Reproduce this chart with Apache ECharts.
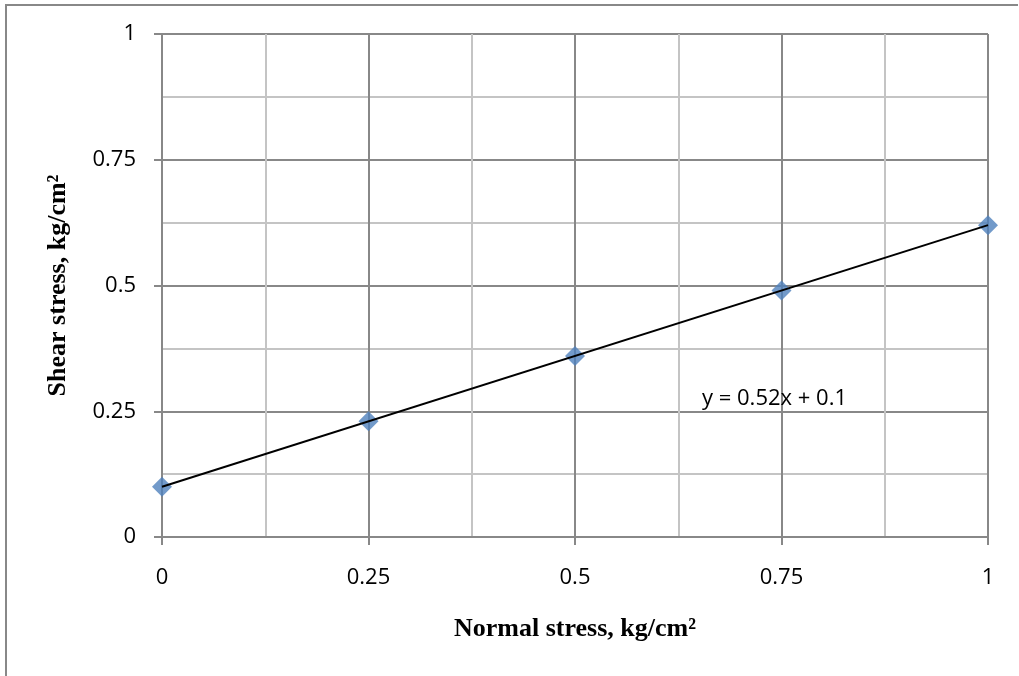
<!DOCTYPE html>
<html><head><meta charset="utf-8">
<script src="https://cdn.jsdelivr.net/npm/echarts@6/dist/echarts.min.js"></script>
<style>html,body{margin:0;padding:0;background:#fff}#c{width:1019px;height:676px}</style>
</head><body><div id="c"></div>
<script>
const normalStress = [0, 0.25, 0.5, 0.75, 1];
const shearStress = [0.1, 0.23, 0.36, 0.49, 0.62];
const trendSlope = 0.52;
const trendIntercept = 0.1;
const trendText = 'y = 0.52x + 0.1';
const xTitle = 'Normal stress, kg/cm²';
const yTitle = 'Shear stress, kg/cm²';

const points = normalStress.map((x, i) => [x, shearStress[i]]);
const trend = [0, 1].map(x => [x, trendSlope * x + trendIntercept]);

const chart = echarts.init(document.getElementById('c'), null, {renderer: 'canvas'});
const labelFont = {fontFamily: 'Open Sans, Liberation Sans, sans-serif', fontSize: 22, color: '#000'};
const axisCommon = {
  min: 0, max: 1, interval: 0.25,
  axisLine: {show: true, lineStyle: {color: '#888', width: 2}},
  axisTick: {show: true, length: 8, lineStyle: {color: '#888', width: 2}},
  splitLine: {show: true, lineStyle: {color: '#888', width: 2}},
  minorTick: {show: false, splitNumber: 2},
  minorSplitLine: {show: true, lineStyle: {color: '#c4c4c4', width: 2}},
  axisLabel: Object.assign({}, labelFont, {formatter: v => String(v)}),
  nameTextStyle: {fontFamily: 'Liberation Serif, Times New Roman, serif', fontWeight: 'bold', fontSize: 26, color: '#000'}
};
chart.setOption({
  animation: false,
  grid: {left: 162, right: 31, top: 34, bottom: 139, containLabel: false, show: false},
  xAxis: Object.assign({}, axisCommon, {type: 'value', name: xTitle, nameLocation: 'middle', nameGap: 79,
    axisLabel: Object.assign({}, axisCommon.axisLabel, {margin: 30})}),
  yAxis: Object.assign({}, axisCommon, {type: 'value', name: yTitle, nameLocation: 'middle', nameGap: 91,
    axisLabel: Object.assign({}, axisCommon.axisLabel, {margin: 26})}),
  graphic: [
    {type: 'polyline', shape: {points: [[6, 700], [6, 5], [1018, 5]]}, style: {fill: 'none', stroke: '#888', lineWidth: 2}, z: 100},
    {type: 'text', left: 702, top: 388, style: {text: trendText, fontFamily: 'Open Sans, Liberation Sans, sans-serif', fontSize: 22, fill: '#000'}, z: 100}
  ],
  series: [
    {type: 'line', data: trend, showSymbol: false, symbol: 'none', lineStyle: {color: '#000', width: 2}, z: 3},
    {type: 'scatter', data: points, symbol: 'diamond', symbolSize: 20, itemStyle: {color: '#4F81BD'}, z: 2}
  ]
});
</script></body></html>
